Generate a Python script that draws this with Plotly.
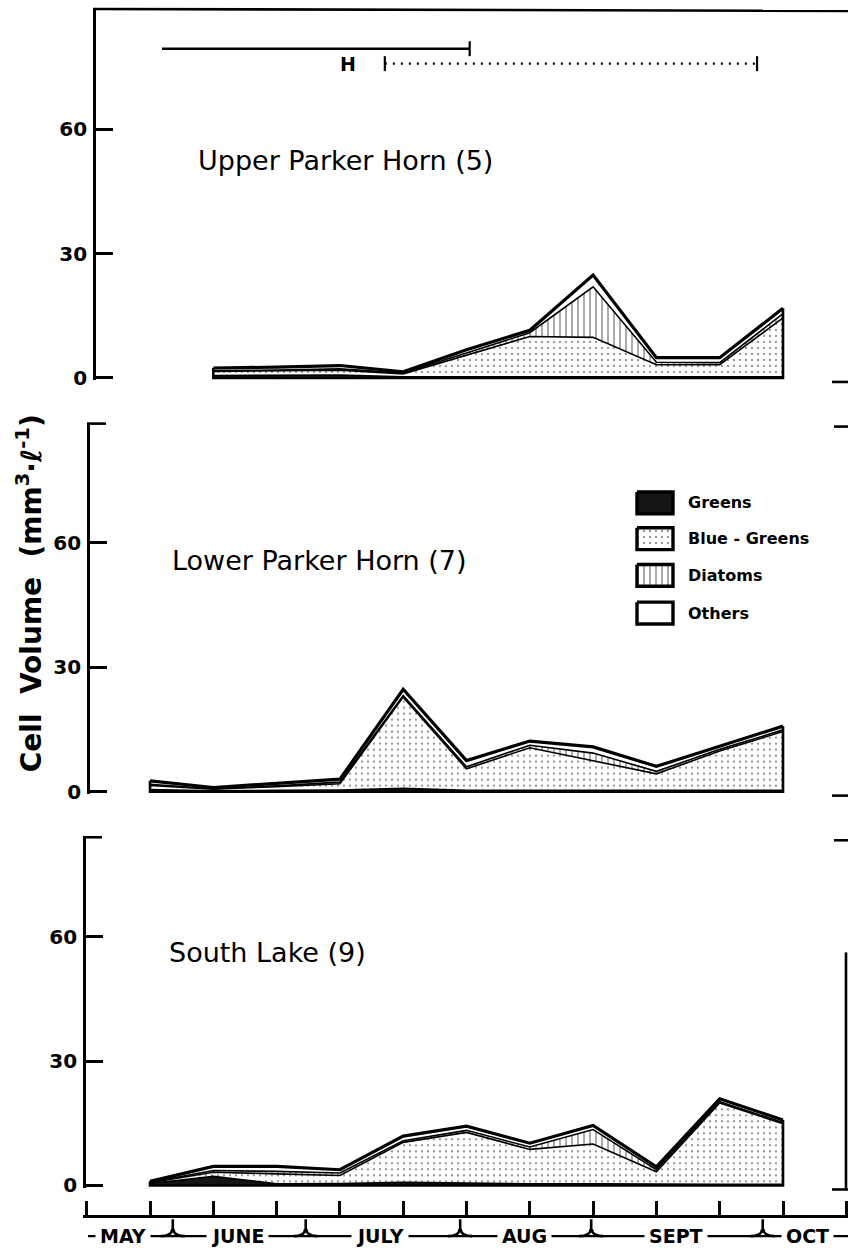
import plotly.graph_objects as go

# ---------------- data ----------------
upper_index = [1, 2, 3, 4, 5, 6, 7, 8, 9, 10]
upper_greens = [0.6, 0.6, 0.7, 0.3, 0.3, 0.4, 0.4, 0.3, 0.3, 0.3]
upper_bluegreens = [1.0, 1.1, 1.2, 0.7, 5.2, 9.6, 9.4, 2.9, 2.9, 14.2]
upper_diatoms = [0.2, 0.2, 0.3, 0.2, 0.5, 0.9, 12.2, 0.6, 0.5, 1.0]
upper_others = [0.6, 0.7, 0.8, 0.3, 0.8, 0.6, 2.8, 1.1, 1.2, 1.3]

lower_index = [0, 1, 2, 3, 4, 5, 6, 7, 8, 9, 10]
lower_greens = [0.5, 0.2, 0.3, 0.4, 0.8, 0.3, 0.3, 0.3, 0.3, 0.3, 0.3]
lower_bluegreens = [1.0, 0.4, 0.9, 1.5, 22.0, 5.2, 10.3, 7.2, 4.0, 9.5, 14.2]
lower_diatoms = [0.3, 0.1, 0.2, 0.4, 0.4, 0.5, 0.6, 1.8, 0.6, 0.4, 0.4]
lower_others = [0.8, 0.3, 0.6, 0.7, 1.5, 1.5, 1.0, 1.5, 1.2, 0.8, 0.9]

south_index = [0, 1, 2, 3, 4, 5, 6, 7, 8, 9, 10]
south_greens = [0.5, 2.2, 0.4, 0.5, 0.8, 0.6, 0.4, 0.4, 0.3, 0.3, 0.3]
south_bluegreens = [0.2, 1.0, 2.4, 1.9, 9.6, 12.2, 8.3, 9.6, 3.0, 19.6, 14.6]
south_diatoms = [0.1, 0.4, 0.6, 0.6, 0.4, 0.5, 0.6, 3.5, 0.5, 0.3, 0.3]
south_others = [0.2, 1.0, 1.2, 0.8, 1.1, 1.0, 0.9, 1.0, 0.7, 0.7, 0.6]

panel_titles = ["Upper Parker Horn (5)", "Lower Parker Horn (7)", "South Lake (9)"]
group_names = ["Greens", "Blue - Greens", "Diatoms", "Others"]

sample_ticks = list(range(-1, 12))
month_labels = ["MAY", "JUNE", "JULY", "AUG", "SEPT", "OCT"]
month_label_at = [-0.43, 1.39, 3.63, 5.92, 8.31, 10.38]
month_breaks = [0.36, 2.46, 4.90, 6.97, 9.68]

y_tick_values = [0, 30, 60]
y_tick_labels = ["0", "30", "60"]

solid_period = [0.19, 5.05]
dotted_period = [3.71, 9.59]
period_level = [79.4, 75.8]
period_label = "H"
period_label_at = 3.13

# ---------------- geometry ----------------
W, H = 848, 1258
L = 83                      # left edge of plot area (px)
X0_PX, PX_PER_IDX = 150, 63.3
PPU = 4.18                  # px per y unit
YMIN = -0.5
FONT = "DejaVu Sans"

xrange_ = [(L - X0_PX) / PX_PER_IDX, (W - X0_PX) / PX_PER_IDX]

panels = [
    dict(zero=381, top=9, axis_x=94, title_xy=(196, 162)),
    dict(zero=798, top=426, axis_x=88, title_xy=(170, 565)),
    dict(zero=1195, top=843, axis_x=84, title_xy=(167, 960)),
]

series = [
    (upper_index, [upper_greens, upper_bluegreens, upper_diatoms, upper_others]),
    (lower_index, [lower_greens, lower_bluegreens, lower_diatoms, lower_others]),
    (south_index, [south_greens, south_bluegreens, south_diatoms, south_others]),
]

fills = {
    "Greens": dict(fillcolor="#151515"),
    "Blue - Greens": dict(fillcolor="white",
                          fillpattern=dict(shape=".", size=6, solidity=0.11,
                                           fgcolor="black", bgcolor="white")),
    "Diatoms": dict(fillcolor="white",
                    fillpattern=dict(shape="|", size=6, solidity=0.22,
                                     fgcolor="black", bgcolor="white")),
    "Others": dict(fillcolor="white"),
}
line_w = {"Greens": 1.6, "Blue - Greens": 1.6, "Diatoms": 1.6, "Others": 3.2}

fig = go.Figure()
layout = dict(
    width=W, height=H, margin=dict(l=L, r=0, t=0, b=0),
    paper_bgcolor="white", plot_bgcolor="rgba(0,0,0,0)", showlegend=False,
    font=dict(family=FONT, color="black"),
)

shapes, annotations = [], []

for k, (p, (idx, groups)) in enumerate(zip(panels, series)):
    yname = "y" if k == 0 else f"y{k+1}"
    ykey = "yaxis" if k == 0 else f"yaxis{k+1}"
    ymax = (p["zero"] - p["top"]) / PPU
    dom = [1 - (p["zero"] - YMIN * PPU) / H, 1 - p["top"] / H]
    layout[ykey] = dict(
        domain=dom, range=[YMIN, ymax], anchor="free",
        position=(p["axis_x"] - L) / (W - L),
        showline=True, linecolor="black", linewidth=2.6,
        ticks="inside", ticklen=17, tickwidth=2.6, tickcolor="black",
        tickvals=y_tick_values, ticktext=y_tick_labels,
        tickfont=dict(family=FONT, size=20, color="black", weight="bold"),
        ticklabelstandoff=2,
        showgrid=False, zeroline=False, fixedrange=True,
    )
    for name, vals in zip(group_names, groups):
        fig.add_trace(go.Scatter(
            x=idx, y=vals, xaxis="x", yaxis=yname, stackgroup=f"panel{k}",
            mode="lines", line=dict(color="black", width=line_w[name]),
            hoverinfo="skip", **fills[name]))
    totals = [sum(v) for v in zip(*groups)]
    fig.add_trace(go.Scatter(
        x=[idx[0], idx[0], idx[-1], idx[-1]],
        y=[totals[0], 0, 0, totals[-1]],
        xaxis="x", yaxis=yname, mode="lines",
        line=dict(color="black", width=2.6), hoverinfo="skip"))
    tx, ty = p["title_xy"]
    annotations.append(dict(
        text=panel_titles[k], x=tx, y=ty, xref="x2", yref="y4",
        xanchor="left", yanchor="middle", showarrow=False,
        font=dict(family=FONT, size=27, color="black")))
    # brackets / frame pieces
    if k == 0:
        shapes.append(dict(type="line", xref="x2", yref="y4",
                           x0=p["axis_x"] - 1, x1=W, y0=p["top"], y1=p["top"] + 2,
                           line=dict(color="black", width=2.6)))
    else:
        shapes.append(dict(type="line", xref="x2", yref="y4",
                           x0=p["axis_x"] - 1, x1=p["axis_x"] + 18,
                           y0=p["top"] + 1, y1=p["top"] + 1,
                           line=dict(color="black", width=2.6)))
        shapes.append(dict(type="line", xref="x2", yref="y4",
                           x0=834, x1=W, y0=p["top"] + 4, y1=p["top"] + 4,
                           line=dict(color="black", width=2.6)))
    shapes.append(dict(type="line", xref="x2", yref="y4",
                       x0=832, x1=W, y0=p["zero"] + 4, y1=p["zero"] + 4,
                       line=dict(color="black", width=2.6)))

# right frame stub in lower panel
shapes.append(dict(type="line", xref="x2", yref="y4", x0=846, x1=846,
                   y0=960, y1=1199, line=dict(color="black", width=2.6)))

# x axis (sampling ticks row)
layout["xaxis"] = dict(
    domain=[0, 1], range=xrange_, anchor="free", position=1 - 1226 / H,
    showline=True, linecolor="black", linewidth=2.6,
    ticks="inside", ticklen=14, tickwidth=2.6, tickcolor="black",
    tickvals=sample_ticks, showticklabels=False,
    showgrid=False, zeroline=False, fixedrange=True,
)
# pixel overlay axes for decorations and legend
layout["xaxis2"] = dict(domain=[0, 1], range=[L, W], visible=False,
                        anchor="y4", fixedrange=True)
layout["yaxis4"] = dict(domain=[0, 1], range=[H, 0], visible=False,
                        anchor="x2", fixedrange=True)

# month row
MONTH_Y = 1246
shapes.append(dict(type="line", xref="x2", yref="y4", x0=88, x1=W,
                   y0=MONTH_Y, y1=MONTH_Y, line=dict(color="black", width=2.4),
                   layer="below"))
for b in month_breaks:
    shapes.append(dict(
        type="path", xref="x", xsizemode="pixel", xanchor=b, yref="y4",
        path=(f"M -12,{MONTH_Y} Q -1,{MONTH_Y} -0.5,{MONTH_Y-7} "
              f"M 12,{MONTH_Y} Q 1,{MONTH_Y} 0.5,{MONTH_Y-7} "
              f"M 0,{MONTH_Y-6} L 0,{MONTH_Y-17}"),
        line=dict(color="black", width=2.6)))
for lab, pos in zip(month_labels, month_label_at):
    annotations.append(dict(
        text=lab, x=pos, y=1 - MONTH_Y / H, xref="x", yref="paper",
        xanchor="center", yanchor="middle", showarrow=False,
        bgcolor="white", borderpad=4,
        font=dict(family=FONT, size=19, color="black", weight="bold")))

# period bars in top panel
shapes.append(dict(type="line", xref="x", yref="y", x0=solid_period[0],
                   x1=solid_period[1], y0=period_level[0], y1=period_level[0],
                   line=dict(color="black", width=2.6)))
shapes.append(dict(type="line", xref="x", yref="y", x0=solid_period[1],
                   x1=solid_period[1], y0=period_level[0] - 1.8,
                   y1=period_level[0] + 1.8, line=dict(color="black", width=2.2)))
shapes.append(dict(type="line", xref="x", yref="y", x0=dotted_period[0],
                   x1=dotted_period[1], y0=period_level[1], y1=period_level[1],
                   line=dict(color="black", width=2.2, dash="2px,6px")))
for xe in dotted_period:
    shapes.append(dict(type="line", xref="x", yref="y", x0=xe, x1=xe,
                       y0=period_level[1] - 1.8, y1=period_level[1] + 1.8,
                       line=dict(color="black", width=2.2)))
annotations.append(dict(text=period_label, x=period_label_at, y=period_level[1],
                        xref="x", yref="y", showarrow=False, xanchor="center",
                        yanchor="middle",
                        font=dict(family=FONT, size=19, color="black", weight="bold")))

# y-axis title
annotations.append(dict(
    text="Cell  Volume  (mm<sup>3</sup>·ℓ<sup>-1</sup>)", x=(29 - L) / (W - L),
    y=1 - 598 / H, xref="paper", yref="paper", textangle=-90, showarrow=False,
    xanchor="center", yanchor="middle",
    font=dict(family=FONT, size=28, color="black", weight="bold")))

# legend (drawn in the lower-left panel area)
LEG_X0, LEG_X1 = 637, 673
LEG_ROWS = [507, 543, 580, 618]
for name, cy in zip(group_names, LEG_ROWS):
    fig.add_trace(go.Scatter(
        x=[LEG_X0, LEG_X1, LEG_X1, LEG_X0, LEG_X0],
        y=[cy - 11, cy - 11, cy + 11, cy + 11, cy - 11],
        xaxis="x2", yaxis="y4", mode="lines", fill="toself",
        line=dict(color="black", width=3.4), hoverinfo="skip", **fills[name]))
    annotations.append(dict(
        text=name, x=686, y=cy, xref="x2", yref="y4", xanchor="left",
        yanchor="middle", showarrow=False,
        font=dict(family=FONT, size=16, color="black", weight="bold")))

layout["shapes"] = shapes
layout["annotations"] = annotations
fig.update_layout(**layout)
fig.write_html("out.html")
